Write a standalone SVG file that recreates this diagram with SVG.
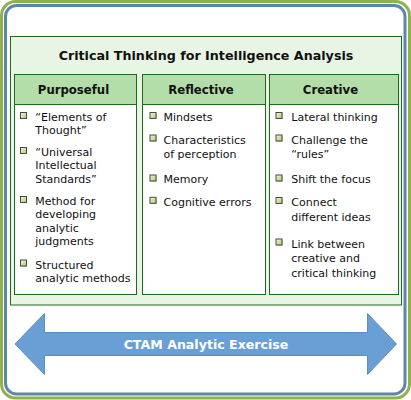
<svg xmlns="http://www.w3.org/2000/svg" width="411" height="400" viewBox="0 0 411 400">
<defs>
<linearGradient id="bg" x1="0" y1="0" x2="1" y2="1">
<stop offset="0" stop-color="#f2f8d8"/>
<stop offset="1" stop-color="#a9cc6c"/>
</linearGradient>
<g id="bul">
<rect x="0.5" y="0.5" width="6" height="6" fill="#9a9a9a"/>
<rect x="0" y="0" width="6" height="6" fill="url(#bg)" stroke="#4a4a4a" stroke-width="1"/>
</g>
</defs>
<style>
.t{font-family:"DejaVu Sans",Verdana,sans-serif;font-size:11px;fill:#111}
.h{font-family:"DejaVu Sans",Verdana,sans-serif;font-size:11.7px;font-weight:bold;fill:#111;text-anchor:middle}
.hdr{fill:#b3dea9;stroke:#1d6a1d;stroke-width:1}
.body{fill:#ffffff;stroke:#1d6a1d;stroke-width:1}
</style>
<rect width="411" height="400" fill="#ffffff"/>
<rect x="1.5" y="1.5" width="408" height="396.5" rx="14" fill="none" stroke="#8fb24f" stroke-width="3"/>
<rect x="5.5" y="5.5" width="399.5" height="388.5" rx="11" fill="none" stroke="#5b87a8" stroke-width="3"/>

<g id="panel">
<rect x="10.5" y="36.5" width="391" height="268.5" fill="#e8f5e5" stroke="#1d6a1d" stroke-width="1"/>
<text x="206" y="60" text-anchor="middle" style="font-family:'DejaVu Sans',Verdana,sans-serif;font-size:12.7px;font-weight:bold;fill:#111">Critical Thinking for Intelligence Analysis</text>
</g>

<g id="purposeful">
<rect class="body" x="14.5" y="104.5" width="122" height="190"/>
<rect class="hdr" x="14.5" y="74.5" width="122" height="30"/>
<text class="h" x="73.5" y="94">Purposeful</text>
<use href="#bul" x="20.5" y="112.5"/>
<text class="t" x="35.3" y="121">“Elements of</text>
<text class="t" x="35.3" y="134">Thought”</text>
<use href="#bul" x="20.5" y="147.5"/>
<text class="t" x="35.3" y="156">“Universal</text>
<text class="t" x="35.3" y="169.3">Intellectual</text>
<text class="t" x="35.3" y="182.6">Standards”</text>
<use href="#bul" x="20.5" y="196.5"/>
<text class="t" x="35.3" y="205">Method for</text>
<text class="t" x="35.3" y="218.3">developing</text>
<text class="t" x="35.3" y="231.6">analytic</text>
<text class="t" x="35.3" y="244.9">judgments</text>
<use href="#bul" x="20.5" y="260"/>
<text class="t" x="35.3" y="268.5">Structured</text>
<text class="t" x="35.3" y="281.8">analytic methods</text>
</g>

<g id="reflective">
<rect class="body" x="142.5" y="104.5" width="123" height="190"/>
<rect class="hdr" x="142.5" y="74.5" width="123" height="30"/>
<text class="h" x="201" y="94">Reflective</text>
<use href="#bul" x="150" y="112.5"/>
<text class="t" x="163.5" y="121">Mindsets</text>
<use href="#bul" x="150" y="135"/>
<text class="t" x="163.5" y="143.5">Characteristics</text>
<text class="t" x="163.5" y="158.3">of perception</text>
<use href="#bul" x="150" y="175"/>
<text class="t" x="163.5" y="183.4">Memory</text>
<use href="#bul" x="150" y="197.3"/>
<text class="t" x="163.5" y="205.8">Cognitive errors</text>
</g>

<g id="creative">
<rect class="body" x="269.5" y="104.5" width="129" height="190"/>
<rect class="hdr" x="269.5" y="74.5" width="129" height="30"/>
<text class="h" x="330.5" y="94">Creative</text>
<use href="#bul" x="276" y="112.5"/>
<text class="t" x="291.3" y="121">Lateral thinking</text>
<use href="#bul" x="276" y="135"/>
<text class="t" x="291.3" y="143.5">Challenge the</text>
<text class="t" x="291.3" y="158.3">“rules”</text>
<use href="#bul" x="276" y="175"/>
<text class="t" x="291.3" y="183.4">Shift the focus</text>
<use href="#bul" x="276" y="197.5"/>
<text class="t" x="291.3" y="206">Connect</text>
<text class="t" x="291.3" y="220.8">different ideas</text>
<use href="#bul" x="276" y="239"/>
<text class="t" x="291.3" y="247.5">Link between</text>
<text class="t" x="291.3" y="262.2">creative and</text>
<text class="t" x="291.3" y="276.8">critical thinking</text>
</g>

<g id="connectors">
<g id="arrow">
<polygon points="15,344 44.5,313.5 44.5,332.5 367.5,332.5 367.5,313.5 396.5,344 367.5,374.5 367.5,355.5 44.5,355.5 44.5,374.5" fill="#6a9fd5" stroke="#5a8dc0" stroke-width="1"/>
<text x="206" y="349" text-anchor="middle" style="font-family:'DejaVu Sans',Verdana,sans-serif;font-size:12.6px;font-weight:bold;fill:#ffffff">CTAM Analytic Exercise</text>
</g>
</g>
</svg>
